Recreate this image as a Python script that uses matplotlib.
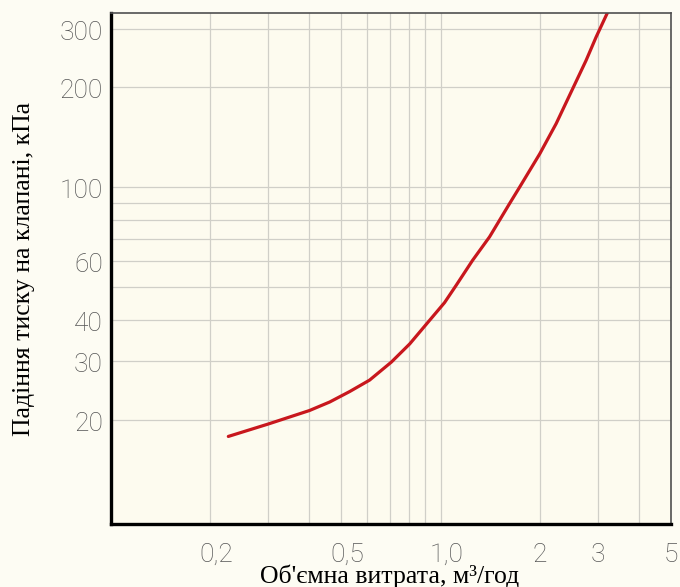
import matplotlib
matplotlib.use("Agg")
import matplotlib.pyplot as plt
from matplotlib.ticker import NullFormatter
from matplotlib.transforms import blended_transform_factory, offset_copy

# data
flow = [0.227, 0.30, 0.40, 0.461, 0.530, 0.609, 0.709, 0.806, 0.926, 1.028,
        1.116, 1.25, 1.408, 1.618, 1.735, 2.0, 2.242, 2.517, 2.764, 2.964, 3.214]
dp = [17.8, 19.4, 21.3, 22.6, 24.3, 26.3, 29.8, 33.8, 39.8, 45.0,
      50.8, 60.3, 71.0, 89.3, 100, 126.3, 155.6, 198.3, 241.3, 283.6, 337]

x_ticks = [0.2, 0.5, 1.0, 2, 3, 5]
x_tick_labels = ['0,2', '0,5', '1,0', '2', '3', '5']
y_ticks = [20, 30, 40, 60, 100, 200, 300]
y_tick_labels = ['20', '30', '40', '60', '100', '200', '300']
x_grid = [0.2, 0.3, 0.4, 0.5, 0.6, 0.7, 0.8, 0.9, 1, 2, 3, 4]
y_grid = [20, 30, 40, 50, 60, 70, 80, 90, 100, 200, 300]

bg = '#FDFBEF'
fig = plt.figure(figsize=(6.8, 5.87), dpi=100, facecolor='#FDFCF3')
ax = fig.add_axes([0.1632, 0.1073, 0.8235, 0.8705], facecolor=bg)

ax.set_xscale('log')
ax.set_yscale('log')
ax.set_xlim(0.1, 5)
ax.set_ylim(9.7, 335)

ax.plot(flow, dp, color='#C8171D', lw=2.3, solid_capstyle='round',
        solid_joinstyle='round')

# grid
ax.set_xticks(x_grid, minor=True)
ax.set_yticks(y_grid, minor=True)
ax.set_xticks([])
ax.set_yticks([])
ax.xaxis.set_minor_formatter(NullFormatter())
ax.yaxis.set_minor_formatter(NullFormatter())
ax.tick_params(which='both', length=0)
ax.grid(which='minor', color='#D0CFC8', lw=0.9)
ax.set_axisbelow(True)

# spines
for s in ['left', 'bottom']:
    ax.spines[s].set_linewidth(2.4)
    ax.spines[s].set_color('black')
for s in ['top', 'right']:
    ax.spines[s].set_linewidth(1.2)
    ax.spines[s].set_color('#505050')

tick_font = dict(family='Roboto', fontweight='light', fontsize=19, color='#555555')

# tick labels
tx = blended_transform_factory(ax.transData, ax.transAxes)
for v, lab in zip(x_ticks, x_tick_labels):
    dx = 6 if ',' in lab else 0
    tr = offset_copy(tx, fig=fig, x=dx, y=-38, units='dots')
    ax.text(v, 0, lab, transform=tr, ha='center', va='baseline', **tick_font)

ty = blended_transform_factory(ax.transAxes, ax.transData)
for v, lab in zip(y_ticks, y_tick_labels):
    tr = offset_copy(ty, fig=fig, x=-8, y=-4, units='dots')
    ax.text(0, v, lab, transform=tr, ha='right', va='center', **tick_font)

label_font = dict(family='Liberation Serif', fontsize=18.5, color='black')
fig.text(0.573, 0.006, "Об'ємна витрата, м³/год", ha='center', va='baseline', **label_font)
fig.text(0.035, 0.542, 'Падіння тиску на клапані, кПа', rotation=90,
         ha='center', va='center', **label_font)

fig.savefig('out.png', dpi=100, facecolor=fig.get_facecolor())
